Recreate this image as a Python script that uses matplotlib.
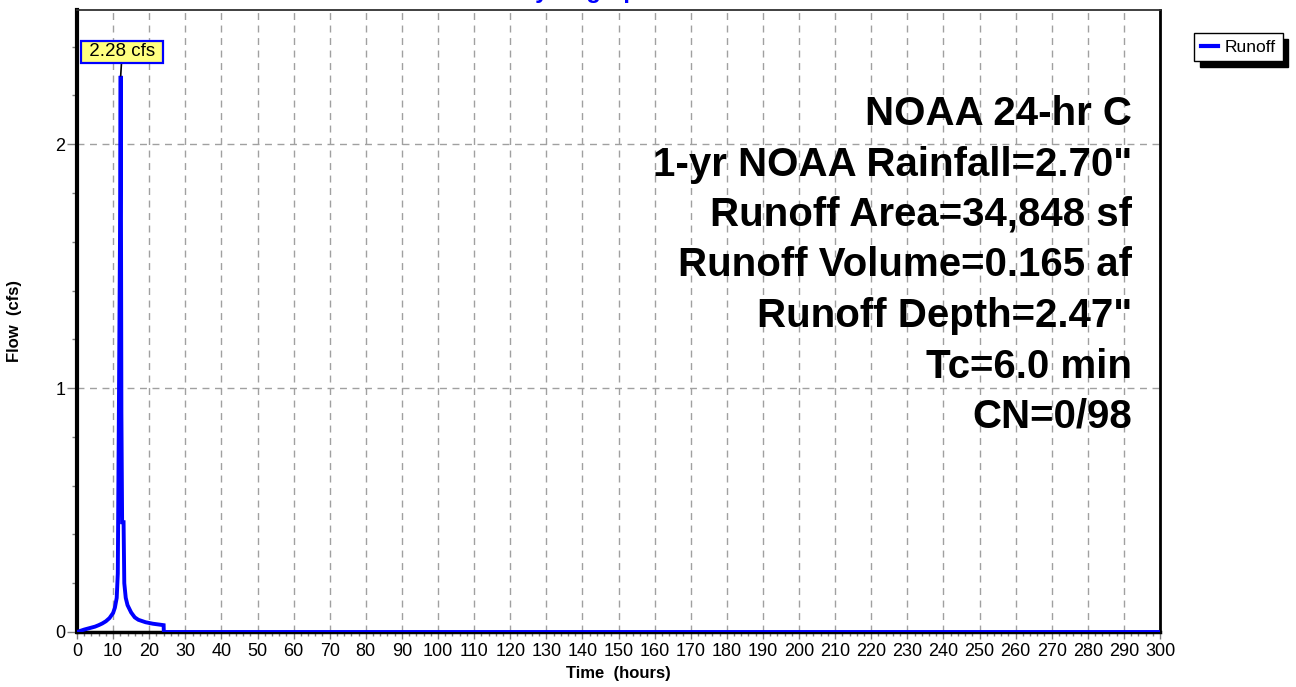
import matplotlib
matplotlib.use("Agg")
import matplotlib.pyplot as plt
from matplotlib.ticker import MultipleLocator

plt.rcParams['font.family'] = ['Liberation Sans', 'DejaVu Sans']

# ---- data ----
time_hr = [0.0, 1.0, 2.0, 3.0, 4.0, 5.0, 6.0, 7.0, 8.0, 9.0, 10.0, 10.5, 11.0,
           11.3, 11.6, 11.9, 12.1, 12.3, 12.5, 12.9, 13.1, 13.5, 14.0,
           15.0, 16.0, 17.0, 18.0, 19.0, 20.0, 21.0, 22.0, 23.0, 24.0, 24.05, 300.0]
flow_cfs = [0.0, 0.005, 0.010, 0.014, 0.018, 0.022, 0.028, 0.035, 0.044, 0.057,
            0.078, 0.10, 0.14, 0.24, 0.90, 1.60, 2.28, 0.90, 0.45, 0.45,
            0.20, 0.14, 0.11, 0.08, 0.06, 0.05, 0.045, 0.040, 0.037, 0.034,
            0.032, 0.030, 0.028, 0.0, 0.0]
peak_time = 12.1
peak_flow = 2.28
peak_label = "2.28 cfs"
series_name = "Runoff"
title = "Hydrograph"
info_lines = ["NOAA 24-hr C",
              '1-yr NOAA Rainfall=2.70"',
              "Runoff Area=34,848 sf",
              "Runoff Volume=0.165 af",
              'Runoff Depth=2.47"',
              "Tc=6.0 min",
              "CN=0/98"]
x_max = 300
y_max = 2.55

W, H = 1296, 687
fig = plt.figure(figsize=(W / 100, H / 100), dpi=100)
left, right, top, bottom = 77, 1160, 10, 632
ax = fig.add_axes([left / W, 1 - bottom / H, (right - left) / W, (bottom - top) / H])

line, = ax.plot(time_hr, flow_cfs, color='#0000FF', lw=2.8, solid_joinstyle='miter',
                label=series_name, zorder=3)

ax.set_xlim(0, x_max)
ax.set_ylim(0, y_max)
ax.xaxis.set_major_locator(MultipleLocator(10))
ax.xaxis.set_minor_locator(MultipleLocator(2))
ax.yaxis.set_major_locator(MultipleLocator(1))
ax.yaxis.set_minor_locator(MultipleLocator(0.2))

ax.grid(True, which='major', color='#a0a0a0', linestyle=(0, (5, 4)), lw=1.0)
ax.set_axisbelow(True)

ax.tick_params(axis='both', which='both', direction='out', color='#808080',
               labelsize=13, labelcolor='black')
ax.tick_params(axis='y', which='major', length=7, width=1, pad=1.5)
ax.tick_params(axis='y', which='minor', length=3.6, width=1)
ax.tick_params(axis='x', which='major', length=5, width=1, pad=3)
ax.tick_params(axis='x', which='minor', length=3, width=1)

for s, lw, c in [('left', 3.0, 'black'), ('bottom', 2.5, 'black'),
                 ('right', 2.0, 'black'), ('top', 1.3, '#303030')]:
    ax.spines[s].set_linewidth(lw)
    ax.spines[s].set_color(c)

ax.set_xlabel("Time  (hours)", fontsize=12, fontweight='bold', labelpad=4)
ax.set_ylabel("Flow  (cfs)", fontsize=12, fontweight='bold', labelpad=24)

# peak annotation
ax.annotate(" " + peak_label + " ", xy=(peak_time, peak_flow), xytext=(1.5, 24),
            textcoords='offset pixels', ha='center', va='center', fontsize=13.5,
            bbox=dict(boxstyle='square,pad=0.15', fc='#FFFF80', ec='#0000FF', lw=1.6),
            arrowprops=dict(arrowstyle='-', color='black', lw=1.2,
                            shrinkA=0, shrinkB=0), zorder=5)

# info text block
base0 = 125
step = 50.5
for i, t in enumerate(info_lines):
    fig.text(1132 / W, 1 - (base0 + i * step) / H, t, ha='right', va='baseline',
             fontsize=29, fontweight='bold', color='black')

# title, clipped at the top edge as in the reference
fig.text(585 / W, 1 + 2 / H, title, ha='center', va='baseline', fontsize=17,
         fontweight='bold', color='#0000FF')

# legend
leg = fig.legend(handles=[line], loc='upper left',
                 bbox_to_anchor=(1194 / W, 1 - 33 / H), frameon=True,
                 fancybox=False, fontsize=12.5, handlelength=1.0,
                 handletextpad=0.4, borderpad=0.38, borderaxespad=0,
                 shadow={'color': 'black', 'alpha': 1.0, 'ox': 4, 'oy': -4})
leg.get_frame().set_edgecolor('black')
leg.get_frame().set_linewidth(1.0)
for l in leg.get_lines():
    l.set_linewidth(3)

fig.savefig("out.png", dpi=100)
